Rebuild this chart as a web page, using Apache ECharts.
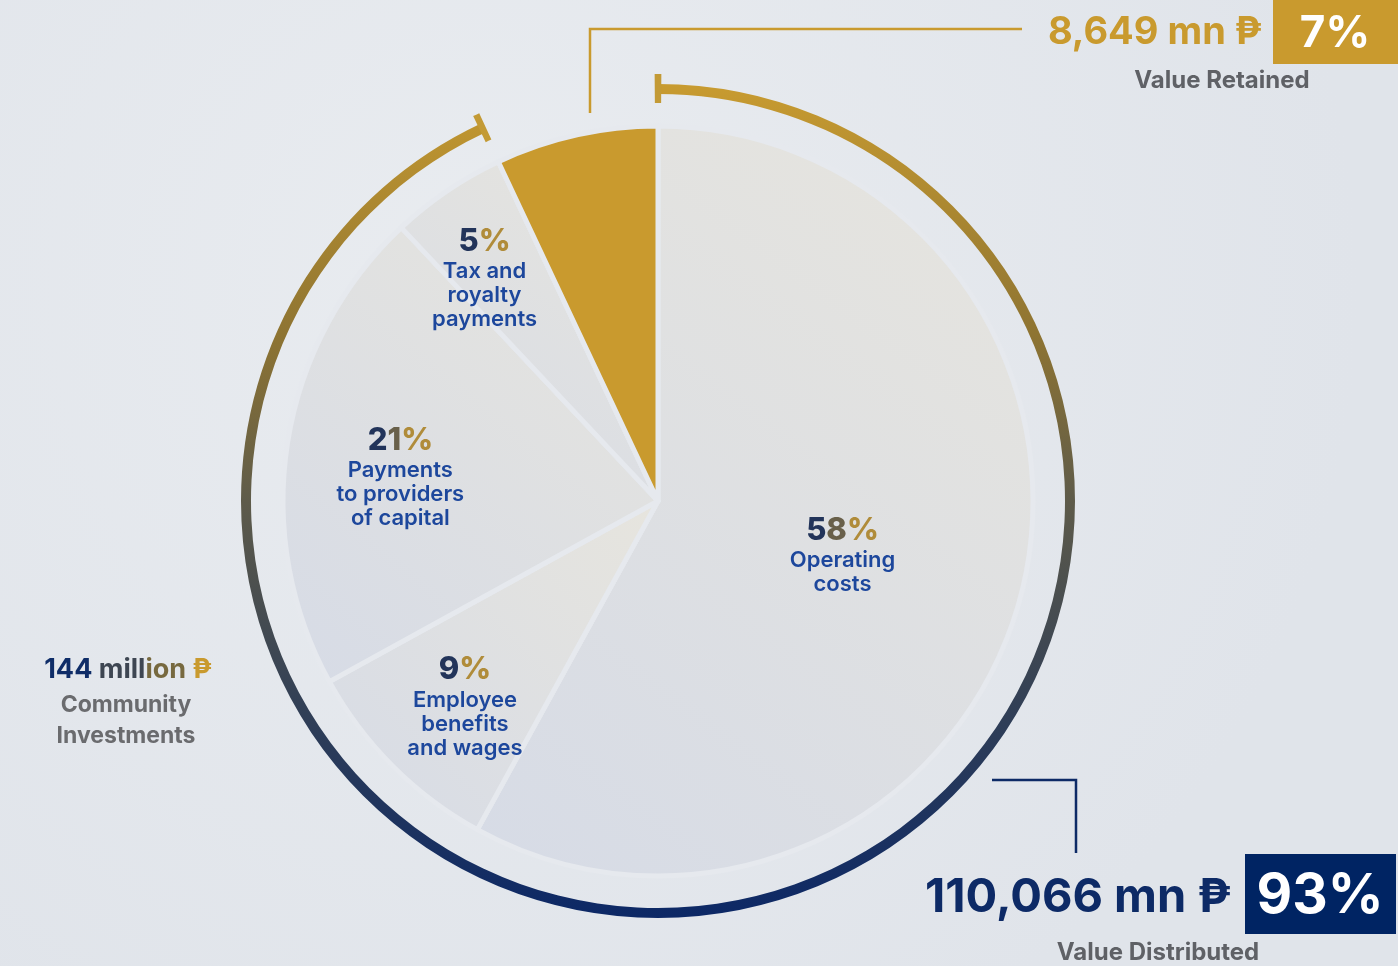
<!DOCTYPE html>
<html>
<head>
<meta charset="utf-8">
<script src="https://cdn.jsdelivr.net/npm/echarts@6/dist/echarts.min.js"></script>
<style>html,body{margin:0;padding:0;background:#e4e8ee;}#chart{width:1398px;height:966px;}</style>
</head>
<body>
<div id="chart"></div>
<script>
// ---- data ----
const categories = ['Operating costs', 'Employee benefits and wages', 'Payments to providers of capital', 'Tax and royalty payments', 'Value Retained'];
const categoryLabels = ['Operating\ncosts', 'Employee\nbenefits\nand wages', 'Payments\nto providers\nof capital', 'Tax and\nroyalty\npayments', ''];
const shares = [58, 9, 21, 5, 7];
const retainedIndex = 4;
const distributedMn = '110,066';
const retainedMn = '8,649';
const communityMillion = '144';
const retainedLabel = 'Value Retained';
const distributedLabel = 'Value Distributed';
const communityLabel = 'Community\nInvestments';

const distributedPct = shares.filter((v, i) => i !== retainedIndex).reduce((a, b) => a + b, 0);
const retainedPct = shares[retainedIndex];

// ---- styling helpers ----
const chart = echarts.init(document.getElementById('chart'), null, {renderer: 'canvas'});
const G = echarts.graphic;
const CX = 658, CY = 501, R = 375;
const FONT = 'Inter, "Noto Sans", "DejaVu Sans", sans-serif';
const GOLD = '#c99a2e', NAVY = '#0d2a66', GREY = '#5f6166', BLUE = '#1d479c';
const GAP = '#e6e9ee';

function mix(a, b, t) {
  const pa = [1,3,5].map(i => parseInt(a.substr(i,2),16));
  const pb = [1,3,5].map(i => parseInt(b.substr(i,2),16));
  return 'rgb(' + pa.map((v,i) => Math.round(v + (pb[i]-v)*t)).join(',') + ')';
}
function pctRich(v) {
  const s = v + '%';
  let out = '';
  for (let i = 0; i < s.length; i++) out += '{p' + i + '_' + s.length + '|' + s[i] + '}';
  return out;
}
const rich = {c: {fontSize: 22, fontWeight: 600, color: BLUE, lineHeight: 24, fontFamily: FONT, align: 'center'}};
[2,3].forEach(n => { for (let i = 0; i < n; i++) rich['p' + i + '_' + n] = {fontSize: 31, fontWeight: 800, fontFamily: FONT, color: mix('#22345a', '#b08c3a', i/(n-1)), lineHeight: 36}; });

function labelText(i) { return pctRich(shares[i]) + '\n' + categoryLabels[i].split('\n').map(l => '{c|' + l + '}').join('\n'); }

const sliceFill = new G.LinearGradient(0, 1, 1, 0, [{offset: 0, color: '#d6dbe6'}, {offset: 1, color: '#e7e5de'}]);

const mainData = shares.map((v, i) => ({
  name: categories[i], value: v,
  itemStyle: {color: i === retainedIndex ? GOLD : sliceFill},
  label: {show: i === 0, formatter: () => labelText(i)}
}));
const labelData = shares.map((v, i) => ({
  name: categories[i], value: v,
  label: {show: i !== 0 && i !== retainedIndex, formatter: () => labelText(i)}
}));

const ringGrad = new G.LinearGradient(0, 0, 0, 1, [
  {offset: 0, color: '#c89b30'}, {offset: 0.3, color: '#8e7432'}, {offset: 0.5, color: '#5e5b4a'},
  {offset: 0.75, color: '#313f56'}, {offset: 1, color: '#0c2866'}]);
const capW = 0.25;

const option = {
  backgroundColor: new G.RadialGradient(0.35, 0.3, 0.9, [{offset: 0, color: '#e9ecf0'}, {offset: 1, color: '#e0e4ea'}]),
  animation: false,
  series: [
    {
      type: 'pie', center: [CX, CY], radius: [0, R], startAngle: 90, clockwise: true, silent: true,
      itemStyle: {borderColor: GAP, borderWidth: 5},
      label: {position: 'inside', rich: rich, align: 'center'},
      labelLayout: {dy: 6},
      labelLine: {show: false},
      data: mainData
    },
    {
      type: 'pie', center: [CX, CY], radius: [0, 540], startAngle: 90, clockwise: true, silent: true, z: 5,
      itemStyle: {color: 'rgba(0,0,0,0)'},
      label: {position: 'inside', rich: rich, align: 'center'},
      labelLayout: function (p) {
        const off = {1: [0, 12], 2: [12, 18], 3: [-20, 2]}[p.dataIndex] || [0, 0];
        return {dx: off[0], dy: off[1]};
      },
      labelLine: {show: false},
      data: labelData
    },
    {
      type: 'pie', center: [CX, CY], radius: [407, 417], startAngle: 90, clockwise: true, silent: true,
      label: {show: false}, labelLine: {show: false},
      data: [
        {value: distributedPct, itemStyle: {color: ringGrad}},
        {value: retainedPct, itemStyle: {color: 'rgba(0,0,0,0)'}}
      ]
    },
    {
      type: 'pie', center: [CX, CY], radius: [398, 427], startAngle: 90 + capW * 3.6 / 2, clockwise: true, silent: true,
      label: {show: false}, labelLine: {show: false},
      data: [
        {value: capW, itemStyle: {color: '#c39a35'}},
        {value: distributedPct - capW, itemStyle: {color: 'rgba(0,0,0,0)'}},
        {value: capW, itemStyle: {color: '#c39a35'}},
        {value: retainedPct - capW, itemStyle: {color: 'rgba(0,0,0,0)'}}
      ]
    }
  ],
  graphic: [
    // retained leader
    {type: 'polyline', shape: {points: [[590, 113], [590, 29], [1022, 29]]}, style: {stroke: '#c99a2e', lineWidth: 2.5, fill: null}},
    {type: 'text', x: 1262, y: 33, style: {text: retainedMn + ' mn ₱', fill: GOLD, font: '700 38px ' + FONT, align: 'right', verticalAlign: 'middle'}},
    {type: 'rect', shape: {x: 1273, y: 0, width: 125, height: 64}, style: {fill: GOLD}},
    {type: 'text', x: 1335, y: 34, style: {text: retainedPct + '%', fill: '#ffffff', font: '700 44px ' + FONT, align: 'center', verticalAlign: 'middle'}},
    {type: 'text', x: 1222, y: 81, style: {text: retainedLabel, fill: GREY, font: '700 24px ' + FONT, align: 'center', verticalAlign: 'middle'}},
    // distributed leader
    {type: 'polyline', shape: {points: [[992, 780], [1076, 780], [1076, 853]]}, style: {stroke: NAVY, lineWidth: 2.5, fill: null}},
    {type: 'text', x: 1231, y: 898, style: {text: distributedMn + ' mn ₱', fill: NAVY, font: '700 47px ' + FONT, align: 'right', verticalAlign: 'middle'}},
    {type: 'rect', shape: {x: 1245, y: 854, width: 151, height: 80}, style: {fill: '#002463'}},
    {type: 'text', x: 1320, y: 896, style: {text: distributedPct + '%', fill: '#ffffff', font: '700 55px ' + FONT, align: 'center', verticalAlign: 'middle'}},
    {type: 'text', x: 1158, y: 953, style: {text: distributedLabel, fill: GREY, font: '700 24px ' + FONT, align: 'center', verticalAlign: 'middle'}},
    // community
    {type: 'text', x: 128, y: 670, style: {
      text: '{a|' + communityMillion + ' }{b|mill}{c|ion }{d|₱}', align: 'center', verticalAlign: 'middle',
      rich: {
        a: {fontSize: 27, fontWeight: 700, fontFamily: FONT, fill: '#0f2d68', color: '#0f2d68'},
        b: {fontSize: 27, fontWeight: 700, fontFamily: FONT, fill: '#3e4652', color: '#3e4652'},
        c: {fontSize: 27, fontWeight: 700, fontFamily: FONT, fill: '#77693f', color: '#77693f'},
        d: {fontSize: 27, fontWeight: 700, fontFamily: FONT, fill: '#c99a2e', color: '#c99a2e'}
      }}},
    {type: 'text', x: 126, y: 721, style: {text: communityLabel, fill: '#6a6b6e', font: '700 23px ' + FONT, align: 'center', verticalAlign: 'middle', lineHeight: 31}}
  ]
};
chart.setOption(option);
</script>
</body>
</html>
